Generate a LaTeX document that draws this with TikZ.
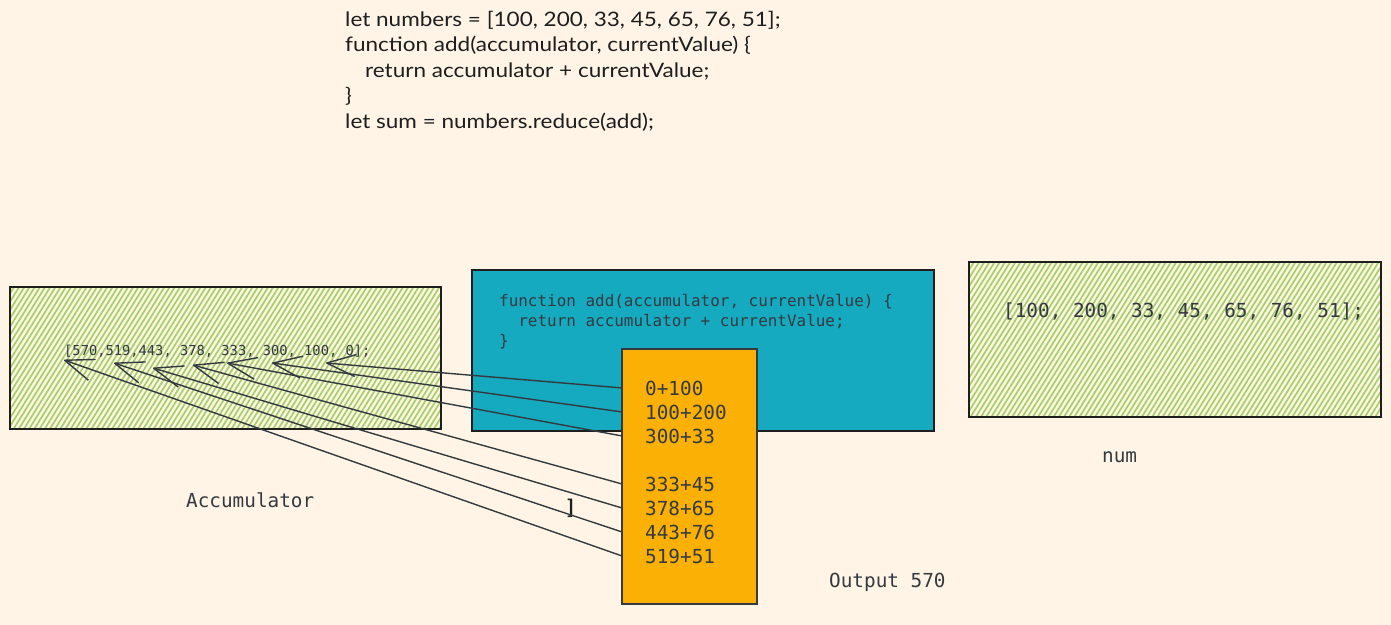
\documentclass[tikz,border=0pt]{standalone}
\usepackage{fontspec}
\setmonofont{DejaVu Sans Mono}
\newfontfamily\handfont{Lato}[FakeStretch=1.13]
\usetikzlibrary{arrows.meta,patterns.meta,calc}
\definecolor{bg}{HTML}{FFF4E6}
\definecolor{hatch}{HTML}{A3D168}
\definecolor{cyanbox}{HTML}{15AABF}
\definecolor{orangebox}{HTML}{FAB005}
\definecolor{ink}{HTML}{343A40}
\definecolor{pen}{HTML}{1E1E1E}
\begin{document}
\begin{tikzpicture}[x=1bp,y=-1bp,
  hatchbox/.style={draw=pen,line width=1.5bp,inner sep=0pt,outer sep=0pt,anchor=north west,
    pattern={Lines[angle=58,distance=4.4bp,line width=1.7bp]},pattern color=hatch},
  fillbox/.style={draw=pen,line width=1.5bp,inner sep=0pt,outer sep=0pt,anchor=north west},
  hand/.style={font=\handfont\fontsize{20}{25}\selectfont,text=pen,inner sep=0pt,anchor=base west},
  mono/.style={font=\ttfamily\fontsize{#1}{#1}\selectfont,text=ink,inner sep=0pt,anchor=base west},
  arr/.style={draw=ink,line width=1.4bp,line join=round,line cap=round,-{Straight Barb[length=29bp,width=22bp,line join=round]}}]
\fill[bg] (0,0) rectangle (1391,625);
\useasboundingbox (0,0) rectangle (1391,625);

% top code
\node[hand] (c1) at (345,27) {let numbers = [100, 200, 33, 45, 65, 76, 51];};
\node[hand] (c2) at (345,52) {function add(accumulator, currentValue) \{};
\node[hand] (c3) at (365,78) {return accumulator + currentValue;};
\node[hand] (c4) at (345,103) {\}};
\node[hand] (c5) at (345,129) {let sum = numbers.reduce(add);};

% boxes
\node[hatchbox,minimum width=431bp,minimum height=142bp] (acc) at (10,287) {};
\node[fillbox,fill=cyanbox,minimum width=462bp,minimum height=161bp] (fn) at (472,270) {};
\node[hatchbox,minimum width=412bp,minimum height=155bp] (num) at (969,262) {};

% texts
\node[mono=13.8] (arrtxt) at (64,355) {[570,519,443, 378, 333, 300, 100, 0];};
\node[mono=16] (f1) at (499,306) {function add(accumulator, currentValue) \{};
\node[mono=16] (f2) at (499,326) {\hphantom{xx}return accumulator + currentValue;};
\node[mono=16] (f3) at (499,346) {\}};
\node[mono=19.4] (numtxt) at (1003,317) {[100, 200, 33, 45, 65, 76, 51];};
\node[mono=19.4] (numlbl) at (1102,462) {num};
\node[mono=19.4] (acclbl) at (186,507) {Accumulator};
\node[mono=19.4] (outlbl) at (829,587) {Output 570};
\node[hand,font=\handfont\bfseries\fontsize{20}{25}\selectfont] (br) at (567,514) {]};

% arrow tips
\coordinate (t0) at (326,363);
\coordinate (t1) at (272,363);
\coordinate (t2) at (227,363);
\coordinate (t3) at (193,365);
\coordinate (t4) at (153,368);
\coordinate (t5) at (114,363);
\coordinate (t6) at (64,360);

% orange box with its rows
\node[fillbox,fill=orangebox,draw=ink,minimum width=135bp,minimum height=255bp] (ob) at (622,349) {};
\foreach \i/\t/\y in {0/0+100/395,1/100+200/419,2/300+33/443,3/333+45/491,4/378+65/515,5/443+76/539,6/519+51/563}{
  \node[mono=19.4] (r\i) at (645,\y) {\t};
}

% connectors
\foreach \i in {0,...,6}{
  \draw[arr] (ob.west |- r\i) -- (t\i);
}
\end{tikzpicture}
\end{document}
